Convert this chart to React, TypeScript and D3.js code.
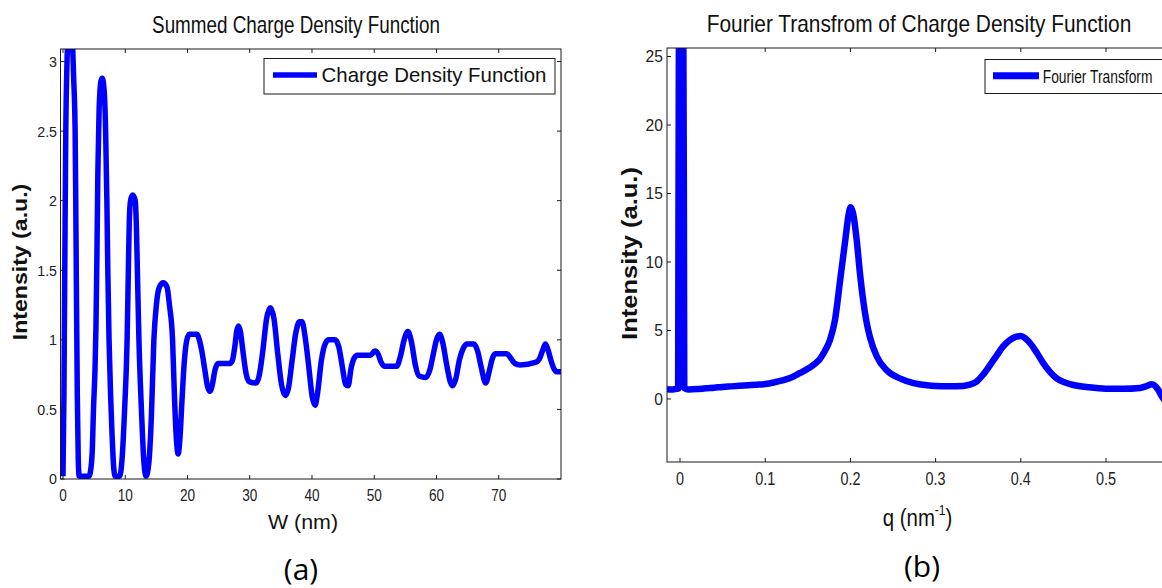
import React from "react";
import * as d3 from "d3";

// ---------- Panel (a): summed charge density ----------
const wNm = [0.0, 0.15, 0.3, 0.45, 0.65, 1.0, 1.4, 1.7, 1.95, 2.05, 2.15, 2.3, 2.45, 2.6, 4.2, 4.4, 4.7, 4.9, 5.15, 5.3, 5.45, 5.6, 5.8, 6.1, 6.3, 6.6, 6.85, 7.05, 7.2, 7.4, 7.65, 7.9, 8.15, 8.4, 9.1, 9.5, 9.9, 10.3, 10.5, 10.65, 10.85, 11.2, 11.6, 11.8, 11.95, 12.2, 12.6, 13.0, 13.35, 13.8, 14.2, 14.6, 15.0, 15.5, 16.1, 16.7, 17.1, 17.6, 17.9, 18.2, 18.5, 18.8, 19.1, 19.5, 19.9, 20.3, 21.5, 21.9, 22.3, 22.8, 23.2, 23.6, 24.0, 24.4, 24.9, 26.8, 27.2, 27.6, 27.9, 28.2, 28.5, 28.9, 29.4, 29.9, 31.0, 31.5, 32.1, 32.7, 33.3, 33.9, 34.5, 35.1, 35.7, 36.2, 36.8, 37.4, 38.0, 38.4, 38.9, 39.5, 40.0, 40.5, 40.9, 41.5, 42.1, 42.7, 43.7, 44.3, 44.9, 45.4, 45.8, 46.3, 46.8, 47.3, 49.4, 50.1, 50.6, 51.1, 51.6, 53.6, 54.2, 54.8, 55.4, 56.0, 56.6, 57.2, 58.3, 58.9, 59.5, 60.0, 60.5, 61.0, 61.6, 62.2, 62.6, 63.1, 63.7, 64.3, 64.9, 66.0, 66.6, 67.2, 67.9, 68.5, 69.0, 69.5, 71.3, 71.9, 72.6, 73.4, 76.0, 76.6, 77.1, 77.5, 77.9, 78.4, 78.9, 79.4, 80.0];
const densityValues = [0.02, 0.6, 1.6, 2.5, 3.0, 3.3, 3.25, 2.9, 2.5, 2.0, 1.4, 0.6, 0.15, 0.02, 0.02, 0.05, 0.2, 0.5, 0.8, 1.1, 1.6, 2.2, 2.65, 2.86, 2.88, 2.8, 2.5, 2.0, 1.5, 1.0, 0.6, 0.3, 0.08, 0.02, 0.02, 0.15, 0.5, 1.0, 1.5, 1.85, 2.0, 2.04, 2.0, 1.8, 1.5, 1.0, 0.5, 0.12, 0.02, 0.12, 0.45, 1.0, 1.25, 1.38, 1.41, 1.38, 1.25, 1.0, 0.6, 0.3, 0.18, 0.3, 0.55, 0.85, 1.0, 1.04, 1.04, 1.0, 0.92, 0.78, 0.67, 0.63, 0.68, 0.78, 0.83, 0.83, 0.85, 0.95, 1.06, 1.1, 1.06, 0.92, 0.76, 0.7, 0.69, 0.74, 0.92, 1.15, 1.23, 1.15, 0.9, 0.68, 0.6, 0.65, 0.85, 1.05, 1.13, 1.13, 1.02, 0.8, 0.6, 0.53, 0.62, 0.85, 0.97, 1.0, 1.0, 0.95, 0.8, 0.68, 0.67, 0.8, 0.87, 0.89, 0.89, 0.92, 0.9, 0.84, 0.81, 0.81, 0.88, 1.0, 1.06, 0.98, 0.82, 0.74, 0.73, 0.78, 0.9, 1.0, 1.04, 0.98, 0.83, 0.7, 0.67, 0.72, 0.86, 0.94, 0.97, 0.97, 0.92, 0.8, 0.69, 0.78, 0.87, 0.9, 0.9, 0.87, 0.83, 0.82, 0.84, 0.87, 0.93, 0.97, 0.93, 0.85, 0.79, 0.77, 0.77];
const xTicksA = [0, 10, 20, 30, 40, 50, 60, 70];
const yTicksA = [0, 0.5, 1, 1.5, 2, 2.5, 3];
const yTickLabelsA = ["0", "0.5", "1", "1.5", "2", "2.5", "3"];

// ---------- Panel (b): Fourier transform ----------
const qValues = [-0.0153, -0.010, -0.006, -0.0022, -0.0018, -0.0002, 0.0032, 0.0046, 0.0050, 0.010, 0.02, 0.03, 0.04, 0.05, 0.06, 0.07, 0.08, 0.09, 0.10, 0.11, 0.12, 0.13, 0.141, 0.15, 0.158, 0.164, 0.170, 0.176, 0.182, 0.188, 0.194, 0.198, 0.2003, 0.203, 0.2074, 0.211, 0.215, 0.219, 0.223, 0.231, 0.2426, 0.258, 0.274, 0.29, 0.30, 0.315, 0.332, 0.34, 0.348, 0.356, 0.364, 0.372, 0.379, 0.387, 0.395, 0.400, 0.405, 0.411, 0.419, 0.4265, 0.434, 0.442, 0.452, 0.4617, 0.48, 0.50, 0.52, 0.54, 0.548, 0.5536, 0.5585, 0.5614, 0.5657, 0.575];
const fourierValues = [0.72, 0.70, 0.72, 0.75, 13, 40, 40, 13, 0.8, 0.70, 0.72, 0.78, 0.82, 0.88, 0.92, 0.96, 1.0, 1.04, 1.09, 1.2, 1.35, 1.55, 1.9, 2.2, 2.55, 2.9, 3.5, 4.3, 5.8, 8.7, 11.6, 13.5, 14.0, 13.6, 11.6, 9.3, 7.2, 5.6, 4.5, 3.1, 2.1, 1.5, 1.16, 1.0, 0.95, 0.93, 0.95, 1.05, 1.27, 1.8, 2.48, 3.2, 3.82, 4.3, 4.55, 4.6, 4.45, 4.07, 3.35, 2.6, 2.0, 1.5, 1.2, 1.02, 0.85, 0.75, 0.74, 0.8, 0.95, 1.07, 0.9, 0.66, 0.17, -0.5];
const xTicksB = [0, 0.1, 0.2, 0.3, 0.4, 0.5];
const xTickLabelsB = ["0", "0.1", "0.2", "0.3", "0.4", "0.5"];
const yTicksB = [0, 5, 10, 15, 20, 25];

const BLUE = "#0000ff";
const AX = "#1a1a1a";
const FONT = "'Liberation Sans', Arial, Helvetica, sans-serif";

function CText({ x, y, size, sx = 1, anchor = "middle", weight = "normal", rotate = 0, fill = "#111", children }: any) {
  return (
    <g transform={`translate(${x},${y}) rotate(${rotate}) scale(${sx},1)`}>
      <text textAnchor={anchor} fontSize={size} fontWeight={weight} fontFamily={FONT} fill={fill}>
        {children}
      </text>
    </g>
  );
}

export default function App() {
  // panel a geometry
  const aL = 60.5, aR = 561, aT = 49, aB = 479;
  const xa = d3.scaleLinear().domain([-0.4, 80]).range([aL, aR]);
  const ya = d3.scaleLinear().domain([0, 3.09]).range([aB, aT]);
  const dataA = wNm.map((w, i) => [w, densityValues[i]] as [number, number]);
  const lineA = d3.line<[number, number]>().x(d => xa(d[0])).y(d => ya(d[1])).curve(d3.curveMonotoneX);

  // panel b geometry
  const bL = 667, bR = 1170, bT = 48, bB = 462;
  const xb = d3.scaleLinear().domain([-0.01526, 0.5751]).range([bL, bR]);
  const yb = d3.scaleLinear().domain([-4.6, 25.62]).range([bB, bT]);
  const dataB = qValues.map((q, i) => [q, fourierValues[i]] as [number, number]);
  const lineB = d3.line<[number, number]>().x(d => xb(d[0])).y(d => yb(d[1])).curve(d3.curveMonotoneX);

  const tk = 4;

  return (
    <svg width={1162} height={588} style={{ position: "absolute", left: 0, top: 0, background: "#fff" }}>
      <defs>
        <clipPath id="clipA"><rect x={aL} y={aT} width={aR - aL} height={aB - aT} /></clipPath>
        <clipPath id="clipB"><rect x={bL} y={bT} width={bR - bL} height={bB - bT} /></clipPath>
      </defs>
      <rect x={0} y={0} width={1162} height={588} fill="#fff" />

      {/* ---------------- Panel (a) ---------------- */}
      <CText x={296} y={33} size={23} sx={0.819}>Summed Charge Density Function</CText>
      <path d={lineA(dataA) || ""} fill="none" stroke={BLUE} strokeWidth={5.5} strokeLinejoin="round" clipPath="url(#clipA)" />
      <rect x={aL} y={aT} width={aR - aL} height={aB - aT} fill="none" stroke={AX} strokeWidth={1} />
      {xTicksA.map(t => (
        <g key={"xa" + t}>
          <line x1={xa(t)} x2={xa(t)} y1={aB} y2={aB - tk} stroke={AX} />
          <line x1={xa(t)} x2={xa(t)} y1={aT} y2={aT + tk} stroke={AX} />
          <CText x={xa(t)} y={500.5} size={17} sx={0.8} fill="#222">{String(t)}</CText>
        </g>
      ))}
      {yTicksA.map((t, i) => (
        <g key={"ya" + t}>
          <line x1={aL} x2={aL + tk} y1={ya(t)} y2={ya(t)} stroke={AX} />
          <line x1={aR} x2={aR - tk} y1={ya(t)} y2={ya(t)} stroke={AX} />
          <CText x={57} y={ya(t) + 5.4} size={15} sx={0.95} anchor="end" fill="#222">{yTickLabelsA[i]}</CText>
        </g>
      ))}
      {/* legend a */}
      <rect x={264} y={58.5} width={291} height={35.5} fill="#fff" stroke={AX} strokeWidth={1} />
      <line x1={273} x2={317} y1={75} y2={75} stroke={BLUE} strokeWidth={5.5} />
      <CText x={321.5} y={81.5} size={21} sx={0.974} anchor="start">Charge Density Function</CText>
      {/* axis labels a */}
      <CText x={27} y={262} size={21} sx={1.1} rotate={-90} weight="bold">Intensity (a.u.)</CText>
      <CText x={303} y={529} size={20} sx={1.07}>W (nm)</CText>
      <text x={301} y={580} textAnchor="middle" fontSize={30} fontFamily="'Open Sans', 'Noto Sans', sans-serif" fill="#000">(a)</text>

      {/* ---------------- Panel (b) ---------------- */}
      <CText x={919} y={32} size={24} sx={0.87}>Fourier Transfrom of Charge Density Function</CText>
      <path d={lineB(dataB) || ""} fill="none" stroke={BLUE} strokeWidth={6.5} strokeLinejoin="round" clipPath="url(#clipB)" />
      <rect x={bL} y={bT} width={bR - bL} height={bB - bT} fill="none" stroke={AX} strokeWidth={1} />
      {xTicksB.map((t, i) => (
        <g key={"xb" + t}>
          <line x1={xb(t)} x2={xb(t)} y1={bB} y2={bB - tk} stroke={AX} />
          <line x1={xb(t)} x2={xb(t)} y1={bT} y2={bT + tk} stroke={AX} />
          <CText x={xb(t)} y={485} size={18} sx={0.8} fill="#222">{xTickLabelsB[i]}</CText>
        </g>
      ))}
      {yTicksB.map(t => (
        <g key={"yb" + t}>
          <line x1={bL} x2={bL + tk} y1={yb(t)} y2={yb(t)} stroke={AX} />
          <CText x={663} y={yb(t) + 6} size={17} sx={0.92} anchor="end" fill="#222">{String(t)}</CText>
        </g>
      ))}
      {/* legend b */}
      <rect x={985} y={59.5} width={190} height={34} fill="#fff" stroke={AX} strokeWidth={1} />
      <line x1={993} x2={1039} y1={75.7} y2={75.7} stroke={BLUE} strokeWidth={7} />
      <CText x={1042.7} y={83.3} size={17.5} sx={0.79} anchor="start">Fourier Transform</CText>
      {/* axis labels b */}
      <CText x={637} y={253.5} size={22} sx={1.16} rotate={-90} weight="bold">Intensity (a.u.)</CText>
      <g transform="translate(917.5,526) scale(0.85,1)">
        <text textAnchor="middle" fontSize={24} fontFamily={FONT} fill="#111">
          q (nm<tspan fontSize={14} dy={-11}>-1</tspan><tspan dy={11}>)</tspan>
        </text>
      </g>
      <text x={922} y={577} textAnchor="middle" fontSize={30} fontFamily="'Open Sans', 'Noto Sans', sans-serif" fill="#000">(b)</text>
    </svg>
  );
}
